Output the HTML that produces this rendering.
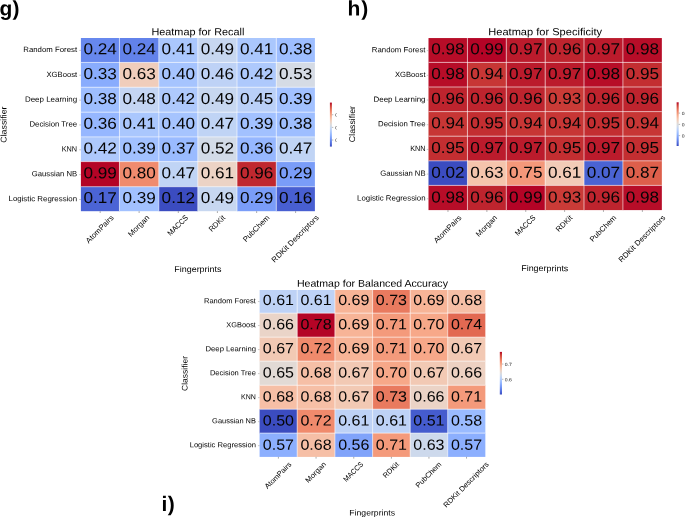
<!DOCTYPE html>
<html><head><meta charset="utf-8"><title>Heatmaps</title>
<style>
html,body{margin:0;padding:0;background:#fff;overflow:hidden}
svg{display:block;will-change:transform;font-family:"Liberation Sans",sans-serif}
</style></head>
<body>
<svg width="685" height="517" viewBox="0 0 685 517">
<rect x="0" y="0" width="685" height="517" fill="#fff"/>
<rect x="80.90" y="38.00" width="38.85" height="24.75" fill="#6788ee"/>
<rect x="119.45" y="38.00" width="39.65" height="24.75" fill="#6282ea"/>
<rect x="158.80" y="38.00" width="39.30" height="24.75" fill="#aac7fd"/>
<rect x="197.80" y="38.00" width="39.50" height="24.75" fill="#c7d7f0"/>
<rect x="237.00" y="38.00" width="39.60" height="24.75" fill="#aac7fd"/>
<rect x="276.30" y="38.00" width="38.60" height="24.75" fill="#9ebeff"/>
<rect x="80.90" y="62.45" width="38.85" height="25.10" fill="#89acfd"/>
<rect x="119.45" y="62.45" width="39.65" height="25.10" fill="#f0cdbb"/>
<rect x="158.80" y="62.45" width="39.30" height="25.10" fill="#a6c4fe"/>
<rect x="197.80" y="62.45" width="39.50" height="25.10" fill="#bed2f6"/>
<rect x="237.00" y="62.45" width="39.60" height="25.10" fill="#aec9fc"/>
<rect x="276.30" y="62.45" width="38.60" height="25.10" fill="#d5dbe5"/>
<rect x="80.90" y="87.25" width="38.85" height="25.25" fill="#9ebeff"/>
<rect x="119.45" y="87.25" width="39.65" height="25.25" fill="#c4d5f3"/>
<rect x="158.80" y="87.25" width="39.30" height="25.25" fill="#aec9fc"/>
<rect x="197.80" y="87.25" width="39.50" height="25.25" fill="#c7d7f0"/>
<rect x="237.00" y="87.25" width="39.60" height="25.25" fill="#bad0f8"/>
<rect x="276.30" y="87.25" width="38.60" height="25.25" fill="#a2c1ff"/>
<rect x="80.90" y="112.20" width="38.85" height="25.00" fill="#96b7ff"/>
<rect x="119.45" y="112.20" width="39.65" height="25.00" fill="#aac7fd"/>
<rect x="158.80" y="112.20" width="39.30" height="25.00" fill="#a6c4fe"/>
<rect x="197.80" y="112.20" width="39.50" height="25.00" fill="#c0d4f5"/>
<rect x="237.00" y="112.20" width="39.60" height="25.00" fill="#a2c1ff"/>
<rect x="276.30" y="112.20" width="38.60" height="25.00" fill="#9ebeff"/>
<rect x="80.90" y="136.90" width="38.85" height="25.00" fill="#aec9fc"/>
<rect x="119.45" y="136.90" width="39.65" height="25.00" fill="#a2c1ff"/>
<rect x="158.80" y="136.90" width="39.30" height="25.00" fill="#9abbff"/>
<rect x="197.80" y="136.90" width="39.50" height="25.00" fill="#d2dbe8"/>
<rect x="237.00" y="136.90" width="39.60" height="25.00" fill="#96b7ff"/>
<rect x="276.30" y="136.90" width="38.60" height="25.00" fill="#c0d4f5"/>
<rect x="80.90" y="161.60" width="38.85" height="25.40" fill="#b40426"/>
<rect x="119.45" y="161.60" width="39.65" height="25.40" fill="#f08b6e"/>
<rect x="158.80" y="161.60" width="39.30" height="25.40" fill="#c0d4f5"/>
<rect x="197.80" y="161.60" width="39.50" height="25.40" fill="#ecd3c5"/>
<rect x="237.00" y="161.60" width="39.60" height="25.40" fill="#c0282f"/>
<rect x="276.30" y="161.60" width="38.60" height="25.40" fill="#7a9df8"/>
<rect x="80.90" y="186.70" width="38.85" height="24.50" fill="#4b64d5"/>
<rect x="119.45" y="186.70" width="39.65" height="24.50" fill="#a2c1ff"/>
<rect x="158.80" y="186.70" width="39.30" height="24.50" fill="#3b4cc0"/>
<rect x="197.80" y="186.70" width="39.50" height="24.50" fill="#c7d7f0"/>
<rect x="237.00" y="186.70" width="39.60" height="24.50" fill="#7a9df8"/>
<rect x="276.30" y="186.70" width="38.60" height="24.50" fill="#485fd1"/>
<line x1="119.45" y1="38.00" x2="119.45" y2="211.20" stroke="#fff" stroke-opacity="0.75" stroke-width="0.8"/>
<line x1="158.80" y1="38.00" x2="158.80" y2="211.20" stroke="#fff" stroke-opacity="0.75" stroke-width="0.8"/>
<line x1="197.80" y1="38.00" x2="197.80" y2="211.20" stroke="#fff" stroke-opacity="0.75" stroke-width="0.8"/>
<line x1="237.00" y1="38.00" x2="237.00" y2="211.20" stroke="#fff" stroke-opacity="0.75" stroke-width="0.8"/>
<line x1="276.30" y1="38.00" x2="276.30" y2="211.20" stroke="#fff" stroke-opacity="0.75" stroke-width="0.8"/>
<line x1="80.90" y1="62.45" x2="314.90" y2="62.45" stroke="#fff" stroke-opacity="0.75" stroke-width="0.8"/>
<line x1="80.90" y1="87.25" x2="314.90" y2="87.25" stroke="#fff" stroke-opacity="0.75" stroke-width="0.8"/>
<line x1="80.90" y1="112.20" x2="314.90" y2="112.20" stroke="#fff" stroke-opacity="0.75" stroke-width="0.8"/>
<line x1="80.90" y1="136.90" x2="314.90" y2="136.90" stroke="#fff" stroke-opacity="0.75" stroke-width="0.8"/>
<line x1="80.90" y1="161.60" x2="314.90" y2="161.60" stroke="#fff" stroke-opacity="0.75" stroke-width="0.8"/>
<line x1="80.90" y1="186.70" x2="314.90" y2="186.70" stroke="#fff" stroke-opacity="0.75" stroke-width="0.8"/>
<text x="100.18" y="54.33" font-size="15.90" text-anchor="middle" fill="#050505" textLength="33.40" lengthAdjust="spacingAndGlyphs" transform="rotate(0.03 100.18 54.33)">0.24</text>
<text x="139.12" y="54.33" font-size="15.90" text-anchor="middle" fill="#050505" textLength="33.40" lengthAdjust="spacingAndGlyphs" transform="rotate(0.03 139.12 54.33)">0.24</text>
<text x="178.30" y="54.33" font-size="15.90" text-anchor="middle" fill="#050505" textLength="33.40" lengthAdjust="spacingAndGlyphs" transform="rotate(0.03 178.30 54.33)">0.41</text>
<text x="217.40" y="54.33" font-size="15.90" text-anchor="middle" fill="#050505" textLength="33.40" lengthAdjust="spacingAndGlyphs" transform="rotate(0.03 217.40 54.33)">0.49</text>
<text x="256.65" y="54.33" font-size="15.90" text-anchor="middle" fill="#050505" textLength="33.40" lengthAdjust="spacingAndGlyphs" transform="rotate(0.03 256.65 54.33)">0.41</text>
<text x="295.60" y="54.33" font-size="15.90" text-anchor="middle" fill="#050505" textLength="33.40" lengthAdjust="spacingAndGlyphs" transform="rotate(0.03 295.60 54.33)">0.38</text>
<text x="100.18" y="79.13" font-size="15.90" text-anchor="middle" fill="#050505" textLength="33.40" lengthAdjust="spacingAndGlyphs" transform="rotate(0.03 100.18 79.13)">0.33</text>
<text x="139.12" y="79.13" font-size="15.90" text-anchor="middle" fill="#050505" textLength="33.40" lengthAdjust="spacingAndGlyphs" transform="rotate(0.03 139.12 79.13)">0.63</text>
<text x="178.30" y="79.13" font-size="15.90" text-anchor="middle" fill="#050505" textLength="33.40" lengthAdjust="spacingAndGlyphs" transform="rotate(0.03 178.30 79.13)">0.40</text>
<text x="217.40" y="79.13" font-size="15.90" text-anchor="middle" fill="#050505" textLength="33.40" lengthAdjust="spacingAndGlyphs" transform="rotate(0.03 217.40 79.13)">0.46</text>
<text x="256.65" y="79.13" font-size="15.90" text-anchor="middle" fill="#050505" textLength="33.40" lengthAdjust="spacingAndGlyphs" transform="rotate(0.03 256.65 79.13)">0.42</text>
<text x="295.60" y="79.13" font-size="15.90" text-anchor="middle" fill="#050505" textLength="33.40" lengthAdjust="spacingAndGlyphs" transform="rotate(0.03 295.60 79.13)">0.53</text>
<text x="100.18" y="103.93" font-size="15.90" text-anchor="middle" fill="#050505" textLength="33.40" lengthAdjust="spacingAndGlyphs" transform="rotate(0.03 100.18 103.93)">0.38</text>
<text x="139.12" y="103.93" font-size="15.90" text-anchor="middle" fill="#050505" textLength="33.40" lengthAdjust="spacingAndGlyphs" transform="rotate(0.03 139.12 103.93)">0.48</text>
<text x="178.30" y="103.93" font-size="15.90" text-anchor="middle" fill="#050505" textLength="33.40" lengthAdjust="spacingAndGlyphs" transform="rotate(0.03 178.30 103.93)">0.42</text>
<text x="217.40" y="103.93" font-size="15.90" text-anchor="middle" fill="#050505" textLength="33.40" lengthAdjust="spacingAndGlyphs" transform="rotate(0.03 217.40 103.93)">0.49</text>
<text x="256.65" y="103.93" font-size="15.90" text-anchor="middle" fill="#050505" textLength="33.40" lengthAdjust="spacingAndGlyphs" transform="rotate(0.03 256.65 103.93)">0.45</text>
<text x="295.60" y="103.93" font-size="15.90" text-anchor="middle" fill="#050505" textLength="33.40" lengthAdjust="spacingAndGlyphs" transform="rotate(0.03 295.60 103.93)">0.39</text>
<text x="100.18" y="128.73" font-size="15.90" text-anchor="middle" fill="#050505" textLength="33.40" lengthAdjust="spacingAndGlyphs" transform="rotate(0.03 100.18 128.73)">0.36</text>
<text x="139.12" y="128.73" font-size="15.90" text-anchor="middle" fill="#050505" textLength="33.40" lengthAdjust="spacingAndGlyphs" transform="rotate(0.03 139.12 128.73)">0.41</text>
<text x="178.30" y="128.73" font-size="15.90" text-anchor="middle" fill="#050505" textLength="33.40" lengthAdjust="spacingAndGlyphs" transform="rotate(0.03 178.30 128.73)">0.40</text>
<text x="217.40" y="128.73" font-size="15.90" text-anchor="middle" fill="#050505" textLength="33.40" lengthAdjust="spacingAndGlyphs" transform="rotate(0.03 217.40 128.73)">0.47</text>
<text x="256.65" y="128.73" font-size="15.90" text-anchor="middle" fill="#050505" textLength="33.40" lengthAdjust="spacingAndGlyphs" transform="rotate(0.03 256.65 128.73)">0.39</text>
<text x="295.60" y="128.73" font-size="15.90" text-anchor="middle" fill="#050505" textLength="33.40" lengthAdjust="spacingAndGlyphs" transform="rotate(0.03 295.60 128.73)">0.38</text>
<text x="100.18" y="153.53" font-size="15.90" text-anchor="middle" fill="#050505" textLength="33.40" lengthAdjust="spacingAndGlyphs" transform="rotate(0.03 100.18 153.53)">0.42</text>
<text x="139.12" y="153.53" font-size="15.90" text-anchor="middle" fill="#050505" textLength="33.40" lengthAdjust="spacingAndGlyphs" transform="rotate(0.03 139.12 153.53)">0.39</text>
<text x="178.30" y="153.53" font-size="15.90" text-anchor="middle" fill="#050505" textLength="33.40" lengthAdjust="spacingAndGlyphs" transform="rotate(0.03 178.30 153.53)">0.37</text>
<text x="217.40" y="153.53" font-size="15.90" text-anchor="middle" fill="#050505" textLength="33.40" lengthAdjust="spacingAndGlyphs" transform="rotate(0.03 217.40 153.53)">0.52</text>
<text x="256.65" y="153.53" font-size="15.90" text-anchor="middle" fill="#050505" textLength="33.40" lengthAdjust="spacingAndGlyphs" transform="rotate(0.03 256.65 153.53)">0.36</text>
<text x="295.60" y="153.53" font-size="15.90" text-anchor="middle" fill="#050505" textLength="33.40" lengthAdjust="spacingAndGlyphs" transform="rotate(0.03 295.60 153.53)">0.47</text>
<text x="100.18" y="178.33" font-size="15.90" text-anchor="middle" fill="#050505" textLength="33.40" lengthAdjust="spacingAndGlyphs" transform="rotate(0.03 100.18 178.33)">0.99</text>
<text x="139.12" y="178.33" font-size="15.90" text-anchor="middle" fill="#050505" textLength="33.40" lengthAdjust="spacingAndGlyphs" transform="rotate(0.03 139.12 178.33)">0.80</text>
<text x="178.30" y="178.33" font-size="15.90" text-anchor="middle" fill="#050505" textLength="33.40" lengthAdjust="spacingAndGlyphs" transform="rotate(0.03 178.30 178.33)">0.47</text>
<text x="217.40" y="178.33" font-size="15.90" text-anchor="middle" fill="#050505" textLength="33.40" lengthAdjust="spacingAndGlyphs" transform="rotate(0.03 217.40 178.33)">0.61</text>
<text x="256.65" y="178.33" font-size="15.90" text-anchor="middle" fill="#050505" textLength="33.40" lengthAdjust="spacingAndGlyphs" transform="rotate(0.03 256.65 178.33)">0.96</text>
<text x="295.60" y="178.33" font-size="15.90" text-anchor="middle" fill="#050505" textLength="33.40" lengthAdjust="spacingAndGlyphs" transform="rotate(0.03 295.60 178.33)">0.29</text>
<text x="100.18" y="203.13" font-size="15.90" text-anchor="middle" fill="#050505" textLength="33.40" lengthAdjust="spacingAndGlyphs" transform="rotate(0.03 100.18 203.13)">0.17</text>
<text x="139.12" y="203.13" font-size="15.90" text-anchor="middle" fill="#050505" textLength="33.40" lengthAdjust="spacingAndGlyphs" transform="rotate(0.03 139.12 203.13)">0.39</text>
<text x="178.30" y="203.13" font-size="15.90" text-anchor="middle" fill="#050505" textLength="33.40" lengthAdjust="spacingAndGlyphs" transform="rotate(0.03 178.30 203.13)">0.12</text>
<text x="217.40" y="203.13" font-size="15.90" text-anchor="middle" fill="#050505" textLength="33.40" lengthAdjust="spacingAndGlyphs" transform="rotate(0.03 217.40 203.13)">0.49</text>
<text x="256.65" y="203.13" font-size="15.90" text-anchor="middle" fill="#050505" textLength="33.40" lengthAdjust="spacingAndGlyphs" transform="rotate(0.03 256.65 203.13)">0.29</text>
<text x="295.60" y="203.13" font-size="15.90" text-anchor="middle" fill="#050505" textLength="33.40" lengthAdjust="spacingAndGlyphs" transform="rotate(0.03 295.60 203.13)">0.16</text>
<line x1="79.20" y1="50.40" x2="80.90" y2="50.40" stroke="#888" stroke-width="0.45"/>
<text x="77.10" y="52.07" font-size="7.58" text-anchor="end" fill="#000" textLength="53.80" lengthAdjust="spacingAndGlyphs" transform="rotate(0.03 77.10 52.07)">Random Forest</text>
<line x1="79.20" y1="75.25" x2="80.90" y2="75.25" stroke="#888" stroke-width="0.45"/>
<text x="77.10" y="76.92" font-size="7.58" text-anchor="end" fill="#000" textLength="30.62" lengthAdjust="spacingAndGlyphs" transform="rotate(0.03 77.10 76.92)">XGBoost</text>
<line x1="79.20" y1="100.10" x2="80.90" y2="100.10" stroke="#888" stroke-width="0.45"/>
<text x="77.10" y="101.77" font-size="7.58" text-anchor="end" fill="#000" textLength="52.16" lengthAdjust="spacingAndGlyphs" transform="rotate(0.03 77.10 101.77)">Deep Learning</text>
<line x1="79.20" y1="124.95" x2="80.90" y2="124.95" stroke="#888" stroke-width="0.45"/>
<text x="77.10" y="126.62" font-size="7.58" text-anchor="end" fill="#000" textLength="47.60" lengthAdjust="spacingAndGlyphs" transform="rotate(0.03 77.10 126.62)">Decision Tree</text>
<line x1="79.20" y1="149.80" x2="80.90" y2="149.80" stroke="#888" stroke-width="0.45"/>
<text x="77.10" y="151.47" font-size="7.58" text-anchor="end" fill="#000" textLength="15.39" lengthAdjust="spacingAndGlyphs" transform="rotate(0.03 77.10 151.47)">KNN</text>
<line x1="79.20" y1="174.65" x2="80.90" y2="174.65" stroke="#888" stroke-width="0.45"/>
<text x="77.10" y="176.32" font-size="7.58" text-anchor="end" fill="#000" textLength="45.33" lengthAdjust="spacingAndGlyphs" transform="rotate(0.03 77.10 176.32)">Gaussian NB</text>
<line x1="79.20" y1="199.50" x2="80.90" y2="199.50" stroke="#888" stroke-width="0.45"/>
<text x="77.10" y="201.17" font-size="7.58" text-anchor="end" fill="#000" textLength="68.58" lengthAdjust="spacingAndGlyphs" transform="rotate(0.03 77.10 201.17)">Logistic Regression</text>
<line x1="100.18" y1="211.20" x2="100.18" y2="213.00" stroke="#555" stroke-width="0.5"/>
<text x="100.18" y="231.51" font-size="7.58" text-anchor="middle" fill="#000" textLength="35.93" lengthAdjust="spacingAndGlyphs" transform="rotate(-45.03 100.18 229.64)">AtomPairs</text>
<line x1="139.12" y1="211.20" x2="139.12" y2="213.00" stroke="#555" stroke-width="0.5"/>
<text x="139.12" y="228.28" font-size="7.58" text-anchor="middle" fill="#000" textLength="26.81" lengthAdjust="spacingAndGlyphs" transform="rotate(-45.03 139.12 226.41)">Morgan</text>
<line x1="178.30" y1="211.20" x2="178.30" y2="213.00" stroke="#555" stroke-width="0.5"/>
<text x="178.30" y="227.81" font-size="7.58" text-anchor="middle" fill="#000" textLength="25.46" lengthAdjust="spacingAndGlyphs" transform="rotate(-45.03 178.30 225.93)">MACCS</text>
<line x1="217.40" y1="211.20" x2="217.40" y2="213.00" stroke="#555" stroke-width="0.5"/>
<text x="217.40" y="225.86" font-size="7.58" text-anchor="middle" fill="#000" textLength="19.95" lengthAdjust="spacingAndGlyphs" transform="rotate(-45.03 217.40 223.99)">RDKit</text>
<line x1="256.65" y1="211.20" x2="256.65" y2="213.00" stroke="#555" stroke-width="0.5"/>
<text x="256.65" y="230.88" font-size="7.58" text-anchor="middle" fill="#000" textLength="34.14" lengthAdjust="spacingAndGlyphs" transform="rotate(-45.03 256.65 229.00)">PubChem</text>
<line x1="295.60" y1="211.20" x2="295.60" y2="213.00" stroke="#555" stroke-width="0.5"/>
<text x="295.60" y="241.11" font-size="7.58" text-anchor="middle" fill="#000" textLength="63.09" lengthAdjust="spacingAndGlyphs" transform="rotate(-45.03 295.60 239.24)">RDKit Descriptors</text>
<text x="197.90" y="35.30" font-size="10.28" text-anchor="middle" fill="#000" textLength="93.00" lengthAdjust="spacingAndGlyphs" transform="rotate(0.03 197.90 35.30)">Heatmap for Recall</text>
<text x="197.90" y="271.98" font-size="8.43" text-anchor="middle" fill="#000" textLength="47.27" lengthAdjust="spacingAndGlyphs" transform="rotate(0.03 197.90 271.98)">Fingerprints</text>
<text x="6.40" y="124.60" font-size="8.43" text-anchor="middle" fill="#000" textLength="36.29" lengthAdjust="spacingAndGlyphs" transform="rotate(-90.03 6.40 124.60)">Classifier</text>
<defs><linearGradient id="g80" x1="0" y1="0" x2="0" y2="1"><stop offset="0.0000" stop-color="#b40426"/><stop offset="0.0625" stop-color="#ca3b37"/><stop offset="0.1250" stop-color="#dd5f4b"/><stop offset="0.1875" stop-color="#eb7d62"/><stop offset="0.2500" stop-color="#f4987a"/><stop offset="0.3125" stop-color="#f7b093"/><stop offset="0.3750" stop-color="#f5c4ac"/><stop offset="0.4375" stop-color="#ecd3c5"/><stop offset="0.5000" stop-color="#dddcdc"/><stop offset="0.5625" stop-color="#ccd9ed"/><stop offset="0.6250" stop-color="#b9d0f9"/><stop offset="0.6875" stop-color="#a3c2fe"/><stop offset="0.7500" stop-color="#8db0fe"/><stop offset="0.8125" stop-color="#779af7"/><stop offset="0.8750" stop-color="#6282ea"/><stop offset="0.9375" stop-color="#4e68d8"/><stop offset="1.0000" stop-color="#3b4cc0"/></linearGradient></defs>
<rect x="329.90" y="102.60" width="2.00" height="44.00" fill="url(#g80)"/>
<line x1="331.90" y1="140.03" x2="333.30" y2="140.03" stroke="#555" stroke-width="0.4"/>
<text x="335.20" y="141.87" font-size="4.66" text-anchor="start" fill="#1a1a1a" textLength="9.80" lengthAdjust="spacingAndGlyphs" transform="rotate(0.03 335.20 141.87)">0.25</text>
<line x1="331.90" y1="127.38" x2="333.30" y2="127.38" stroke="#555" stroke-width="0.4"/>
<text x="335.20" y="129.23" font-size="4.66" text-anchor="start" fill="#1a1a1a" textLength="9.80" lengthAdjust="spacingAndGlyphs" transform="rotate(0.03 335.20 129.23)">0.50</text>
<line x1="331.90" y1="114.74" x2="333.30" y2="114.74" stroke="#555" stroke-width="0.4"/>
<text x="335.20" y="116.59" font-size="4.66" text-anchor="start" fill="#1a1a1a" textLength="9.80" lengthAdjust="spacingAndGlyphs" transform="rotate(0.03 335.20 116.59)">0.75</text>
<rect x="336.9" y="100" width="9.4" height="50" fill="#fff"/>
<rect x="428.50" y="38.06" width="39.25" height="24.64" fill="#b70d28"/>
<rect x="467.45" y="38.06" width="39.15" height="24.64" fill="#b40426"/>
<rect x="506.30" y="38.06" width="39.20" height="24.64" fill="#bb1b2c"/>
<rect x="545.20" y="38.06" width="39.10" height="24.64" fill="#be242e"/>
<rect x="584.00" y="38.06" width="39.20" height="24.64" fill="#bb1b2c"/>
<rect x="622.90" y="38.06" width="38.95" height="24.64" fill="#b70d28"/>
<rect x="428.50" y="62.40" width="39.25" height="24.90" fill="#b70d28"/>
<rect x="467.45" y="62.40" width="39.15" height="24.90" fill="#c73635"/>
<rect x="506.30" y="62.40" width="39.20" height="24.90" fill="#bb1b2c"/>
<rect x="545.20" y="62.40" width="39.10" height="24.90" fill="#bb1b2c"/>
<rect x="584.00" y="62.40" width="39.20" height="24.90" fill="#b70d28"/>
<rect x="622.90" y="62.40" width="38.95" height="24.90" fill="#c32e31"/>
<rect x="428.50" y="87.00" width="39.25" height="24.90" fill="#be242e"/>
<rect x="467.45" y="87.00" width="39.15" height="24.90" fill="#be242e"/>
<rect x="506.30" y="87.00" width="39.20" height="24.90" fill="#be242e"/>
<rect x="545.20" y="87.00" width="39.10" height="24.90" fill="#ca3b37"/>
<rect x="584.00" y="87.00" width="39.20" height="24.90" fill="#be242e"/>
<rect x="622.90" y="87.00" width="38.95" height="24.90" fill="#be242e"/>
<rect x="428.50" y="111.60" width="39.25" height="24.90" fill="#c73635"/>
<rect x="467.45" y="111.60" width="39.15" height="24.90" fill="#c32e31"/>
<rect x="506.30" y="111.60" width="39.20" height="24.90" fill="#c73635"/>
<rect x="545.20" y="111.60" width="39.10" height="24.90" fill="#c73635"/>
<rect x="584.00" y="111.60" width="39.20" height="24.90" fill="#c32e31"/>
<rect x="622.90" y="111.60" width="38.95" height="24.90" fill="#c73635"/>
<rect x="428.50" y="136.20" width="39.25" height="24.90" fill="#c32e31"/>
<rect x="467.45" y="136.20" width="39.15" height="24.90" fill="#bb1b2c"/>
<rect x="506.30" y="136.20" width="39.20" height="24.90" fill="#bb1b2c"/>
<rect x="545.20" y="136.20" width="39.10" height="24.90" fill="#c32e31"/>
<rect x="584.00" y="136.20" width="39.20" height="24.90" fill="#bb1b2c"/>
<rect x="622.90" y="136.20" width="38.95" height="24.90" fill="#c32e31"/>
<rect x="428.50" y="160.80" width="39.25" height="24.90" fill="#3b4cc0"/>
<rect x="467.45" y="160.80" width="39.15" height="24.90" fill="#f5c4ac"/>
<rect x="506.30" y="160.80" width="39.20" height="24.90" fill="#f4987a"/>
<rect x="545.20" y="160.80" width="39.10" height="24.90" fill="#f2cbb7"/>
<rect x="584.00" y="160.80" width="39.20" height="24.90" fill="#4a63d3"/>
<rect x="622.90" y="160.80" width="38.95" height="24.90" fill="#dd5f4b"/>
<rect x="428.50" y="185.40" width="39.25" height="24.70" fill="#b70d28"/>
<rect x="467.45" y="185.40" width="39.15" height="24.70" fill="#be242e"/>
<rect x="506.30" y="185.40" width="39.20" height="24.70" fill="#b40426"/>
<rect x="545.20" y="185.40" width="39.10" height="24.70" fill="#ca3b37"/>
<rect x="584.00" y="185.40" width="39.20" height="24.70" fill="#be242e"/>
<rect x="622.90" y="185.40" width="38.95" height="24.70" fill="#b70d28"/>
<line x1="467.45" y1="38.06" x2="467.45" y2="210.10" stroke="#fff" stroke-opacity="0.75" stroke-width="0.8"/>
<line x1="506.30" y1="38.06" x2="506.30" y2="210.10" stroke="#fff" stroke-opacity="0.75" stroke-width="0.8"/>
<line x1="545.20" y1="38.06" x2="545.20" y2="210.10" stroke="#fff" stroke-opacity="0.75" stroke-width="0.8"/>
<line x1="584.00" y1="38.06" x2="584.00" y2="210.10" stroke="#fff" stroke-opacity="0.75" stroke-width="0.8"/>
<line x1="622.90" y1="38.06" x2="622.90" y2="210.10" stroke="#fff" stroke-opacity="0.75" stroke-width="0.8"/>
<line x1="428.50" y1="62.40" x2="661.85" y2="62.40" stroke="#fff" stroke-opacity="0.75" stroke-width="0.8"/>
<line x1="428.50" y1="87.00" x2="661.85" y2="87.00" stroke="#fff" stroke-opacity="0.75" stroke-width="0.8"/>
<line x1="428.50" y1="111.60" x2="661.85" y2="111.60" stroke="#fff" stroke-opacity="0.75" stroke-width="0.8"/>
<line x1="428.50" y1="136.20" x2="661.85" y2="136.20" stroke="#fff" stroke-opacity="0.75" stroke-width="0.8"/>
<line x1="428.50" y1="160.80" x2="661.85" y2="160.80" stroke="#fff" stroke-opacity="0.75" stroke-width="0.8"/>
<line x1="428.50" y1="185.40" x2="661.85" y2="185.40" stroke="#fff" stroke-opacity="0.75" stroke-width="0.8"/>
<text x="447.98" y="54.28" font-size="15.90" text-anchor="middle" fill="#050505" textLength="33.40" lengthAdjust="spacingAndGlyphs" transform="rotate(0.03 447.98 54.28)">0.98</text>
<text x="486.88" y="54.28" font-size="15.90" text-anchor="middle" fill="#050505" textLength="33.40" lengthAdjust="spacingAndGlyphs" transform="rotate(0.03 486.88 54.28)">0.99</text>
<text x="525.75" y="54.28" font-size="15.90" text-anchor="middle" fill="#050505" textLength="33.40" lengthAdjust="spacingAndGlyphs" transform="rotate(0.03 525.75 54.28)">0.97</text>
<text x="564.60" y="54.28" font-size="15.90" text-anchor="middle" fill="#050505" textLength="33.40" lengthAdjust="spacingAndGlyphs" transform="rotate(0.03 564.60 54.28)">0.96</text>
<text x="603.45" y="54.28" font-size="15.90" text-anchor="middle" fill="#050505" textLength="33.40" lengthAdjust="spacingAndGlyphs" transform="rotate(0.03 603.45 54.28)">0.97</text>
<text x="642.38" y="54.28" font-size="15.90" text-anchor="middle" fill="#050505" textLength="33.40" lengthAdjust="spacingAndGlyphs" transform="rotate(0.03 642.38 54.28)">0.98</text>
<text x="447.98" y="78.97" font-size="15.90" text-anchor="middle" fill="#050505" textLength="33.40" lengthAdjust="spacingAndGlyphs" transform="rotate(0.03 447.98 78.97)">0.98</text>
<text x="486.88" y="78.97" font-size="15.90" text-anchor="middle" fill="#050505" textLength="33.40" lengthAdjust="spacingAndGlyphs" transform="rotate(0.03 486.88 78.97)">0.94</text>
<text x="525.75" y="78.97" font-size="15.90" text-anchor="middle" fill="#050505" textLength="33.40" lengthAdjust="spacingAndGlyphs" transform="rotate(0.03 525.75 78.97)">0.97</text>
<text x="564.60" y="78.97" font-size="15.90" text-anchor="middle" fill="#050505" textLength="33.40" lengthAdjust="spacingAndGlyphs" transform="rotate(0.03 564.60 78.97)">0.97</text>
<text x="603.45" y="78.97" font-size="15.90" text-anchor="middle" fill="#050505" textLength="33.40" lengthAdjust="spacingAndGlyphs" transform="rotate(0.03 603.45 78.97)">0.98</text>
<text x="642.38" y="78.97" font-size="15.90" text-anchor="middle" fill="#050505" textLength="33.40" lengthAdjust="spacingAndGlyphs" transform="rotate(0.03 642.38 78.97)">0.95</text>
<text x="447.98" y="103.66" font-size="15.90" text-anchor="middle" fill="#050505" textLength="33.40" lengthAdjust="spacingAndGlyphs" transform="rotate(0.03 447.98 103.66)">0.96</text>
<text x="486.88" y="103.66" font-size="15.90" text-anchor="middle" fill="#050505" textLength="33.40" lengthAdjust="spacingAndGlyphs" transform="rotate(0.03 486.88 103.66)">0.96</text>
<text x="525.75" y="103.66" font-size="15.90" text-anchor="middle" fill="#050505" textLength="33.40" lengthAdjust="spacingAndGlyphs" transform="rotate(0.03 525.75 103.66)">0.96</text>
<text x="564.60" y="103.66" font-size="15.90" text-anchor="middle" fill="#050505" textLength="33.40" lengthAdjust="spacingAndGlyphs" transform="rotate(0.03 564.60 103.66)">0.93</text>
<text x="603.45" y="103.66" font-size="15.90" text-anchor="middle" fill="#050505" textLength="33.40" lengthAdjust="spacingAndGlyphs" transform="rotate(0.03 603.45 103.66)">0.96</text>
<text x="642.38" y="103.66" font-size="15.90" text-anchor="middle" fill="#050505" textLength="33.40" lengthAdjust="spacingAndGlyphs" transform="rotate(0.03 642.38 103.66)">0.96</text>
<text x="447.98" y="128.35" font-size="15.90" text-anchor="middle" fill="#050505" textLength="33.40" lengthAdjust="spacingAndGlyphs" transform="rotate(0.03 447.98 128.35)">0.94</text>
<text x="486.88" y="128.35" font-size="15.90" text-anchor="middle" fill="#050505" textLength="33.40" lengthAdjust="spacingAndGlyphs" transform="rotate(0.03 486.88 128.35)">0.95</text>
<text x="525.75" y="128.35" font-size="15.90" text-anchor="middle" fill="#050505" textLength="33.40" lengthAdjust="spacingAndGlyphs" transform="rotate(0.03 525.75 128.35)">0.94</text>
<text x="564.60" y="128.35" font-size="15.90" text-anchor="middle" fill="#050505" textLength="33.40" lengthAdjust="spacingAndGlyphs" transform="rotate(0.03 564.60 128.35)">0.94</text>
<text x="603.45" y="128.35" font-size="15.90" text-anchor="middle" fill="#050505" textLength="33.40" lengthAdjust="spacingAndGlyphs" transform="rotate(0.03 603.45 128.35)">0.95</text>
<text x="642.38" y="128.35" font-size="15.90" text-anchor="middle" fill="#050505" textLength="33.40" lengthAdjust="spacingAndGlyphs" transform="rotate(0.03 642.38 128.35)">0.94</text>
<text x="447.98" y="153.04" font-size="15.90" text-anchor="middle" fill="#050505" textLength="33.40" lengthAdjust="spacingAndGlyphs" transform="rotate(0.03 447.98 153.04)">0.95</text>
<text x="486.88" y="153.04" font-size="15.90" text-anchor="middle" fill="#050505" textLength="33.40" lengthAdjust="spacingAndGlyphs" transform="rotate(0.03 486.88 153.04)">0.97</text>
<text x="525.75" y="153.04" font-size="15.90" text-anchor="middle" fill="#050505" textLength="33.40" lengthAdjust="spacingAndGlyphs" transform="rotate(0.03 525.75 153.04)">0.97</text>
<text x="564.60" y="153.04" font-size="15.90" text-anchor="middle" fill="#050505" textLength="33.40" lengthAdjust="spacingAndGlyphs" transform="rotate(0.03 564.60 153.04)">0.95</text>
<text x="603.45" y="153.04" font-size="15.90" text-anchor="middle" fill="#050505" textLength="33.40" lengthAdjust="spacingAndGlyphs" transform="rotate(0.03 603.45 153.04)">0.97</text>
<text x="642.38" y="153.04" font-size="15.90" text-anchor="middle" fill="#050505" textLength="33.40" lengthAdjust="spacingAndGlyphs" transform="rotate(0.03 642.38 153.04)">0.95</text>
<text x="447.98" y="177.73" font-size="15.90" text-anchor="middle" fill="#050505" textLength="33.40" lengthAdjust="spacingAndGlyphs" transform="rotate(0.03 447.98 177.73)">0.02</text>
<text x="486.88" y="177.73" font-size="15.90" text-anchor="middle" fill="#050505" textLength="33.40" lengthAdjust="spacingAndGlyphs" transform="rotate(0.03 486.88 177.73)">0.63</text>
<text x="525.75" y="177.73" font-size="15.90" text-anchor="middle" fill="#050505" textLength="33.40" lengthAdjust="spacingAndGlyphs" transform="rotate(0.03 525.75 177.73)">0.75</text>
<text x="564.60" y="177.73" font-size="15.90" text-anchor="middle" fill="#050505" textLength="33.40" lengthAdjust="spacingAndGlyphs" transform="rotate(0.03 564.60 177.73)">0.61</text>
<text x="603.45" y="177.73" font-size="15.90" text-anchor="middle" fill="#050505" textLength="33.40" lengthAdjust="spacingAndGlyphs" transform="rotate(0.03 603.45 177.73)">0.07</text>
<text x="642.38" y="177.73" font-size="15.90" text-anchor="middle" fill="#050505" textLength="33.40" lengthAdjust="spacingAndGlyphs" transform="rotate(0.03 642.38 177.73)">0.87</text>
<text x="447.98" y="202.42" font-size="15.90" text-anchor="middle" fill="#050505" textLength="33.40" lengthAdjust="spacingAndGlyphs" transform="rotate(0.03 447.98 202.42)">0.98</text>
<text x="486.88" y="202.42" font-size="15.90" text-anchor="middle" fill="#050505" textLength="33.40" lengthAdjust="spacingAndGlyphs" transform="rotate(0.03 486.88 202.42)">0.96</text>
<text x="525.75" y="202.42" font-size="15.90" text-anchor="middle" fill="#050505" textLength="33.40" lengthAdjust="spacingAndGlyphs" transform="rotate(0.03 525.75 202.42)">0.99</text>
<text x="564.60" y="202.42" font-size="15.90" text-anchor="middle" fill="#050505" textLength="33.40" lengthAdjust="spacingAndGlyphs" transform="rotate(0.03 564.60 202.42)">0.93</text>
<text x="603.45" y="202.42" font-size="15.90" text-anchor="middle" fill="#050505" textLength="33.40" lengthAdjust="spacingAndGlyphs" transform="rotate(0.03 603.45 202.42)">0.96</text>
<text x="642.38" y="202.42" font-size="15.90" text-anchor="middle" fill="#050505" textLength="33.40" lengthAdjust="spacingAndGlyphs" transform="rotate(0.03 642.38 202.42)">0.98</text>
<line x1="426.81" y1="50.65" x2="428.50" y2="50.65" stroke="#888" stroke-width="0.45"/>
<text x="425.51" y="52.32" font-size="7.56" text-anchor="end" fill="#000" textLength="53.64" lengthAdjust="spacingAndGlyphs" transform="rotate(0.03 425.51 52.32)">Random Forest</text>
<line x1="426.81" y1="75.34" x2="428.50" y2="75.34" stroke="#888" stroke-width="0.45"/>
<text x="425.51" y="77.01" font-size="7.56" text-anchor="end" fill="#000" textLength="30.53" lengthAdjust="spacingAndGlyphs" transform="rotate(0.03 425.51 77.01)">XGBoost</text>
<line x1="426.81" y1="100.03" x2="428.50" y2="100.03" stroke="#888" stroke-width="0.45"/>
<text x="425.51" y="101.70" font-size="7.56" text-anchor="end" fill="#000" textLength="52.00" lengthAdjust="spacingAndGlyphs" transform="rotate(0.03 425.51 101.70)">Deep Learning</text>
<line x1="426.81" y1="124.72" x2="428.50" y2="124.72" stroke="#888" stroke-width="0.45"/>
<text x="425.51" y="126.39" font-size="7.56" text-anchor="end" fill="#000" textLength="47.46" lengthAdjust="spacingAndGlyphs" transform="rotate(0.03 425.51 126.39)">Decision Tree</text>
<line x1="426.81" y1="149.41" x2="428.50" y2="149.41" stroke="#888" stroke-width="0.45"/>
<text x="425.51" y="151.08" font-size="7.56" text-anchor="end" fill="#000" textLength="15.34" lengthAdjust="spacingAndGlyphs" transform="rotate(0.03 425.51 151.08)">KNN</text>
<line x1="426.81" y1="174.10" x2="428.50" y2="174.10" stroke="#888" stroke-width="0.45"/>
<text x="425.51" y="175.77" font-size="7.56" text-anchor="end" fill="#000" textLength="45.19" lengthAdjust="spacingAndGlyphs" transform="rotate(0.03 425.51 175.77)">Gaussian NB</text>
<line x1="426.81" y1="198.79" x2="428.50" y2="198.79" stroke="#888" stroke-width="0.45"/>
<text x="425.51" y="200.46" font-size="7.56" text-anchor="end" fill="#000" textLength="68.38" lengthAdjust="spacingAndGlyphs" transform="rotate(0.03 425.51 200.46)">Logistic Regression</text>
<line x1="447.98" y1="210.10" x2="447.98" y2="211.89" stroke="#555" stroke-width="0.5"/>
<text x="447.98" y="231.46" font-size="7.56" text-anchor="middle" fill="#000" textLength="35.82" lengthAdjust="spacingAndGlyphs" transform="rotate(-45.03 447.98 229.59)">AtomPairs</text>
<line x1="486.88" y1="210.10" x2="486.88" y2="211.89" stroke="#555" stroke-width="0.5"/>
<text x="486.88" y="228.24" font-size="7.56" text-anchor="middle" fill="#000" textLength="26.73" lengthAdjust="spacingAndGlyphs" transform="rotate(-45.03 486.88 226.37)">Morgan</text>
<line x1="525.75" y1="210.10" x2="525.75" y2="211.89" stroke="#555" stroke-width="0.5"/>
<text x="525.75" y="227.77" font-size="7.56" text-anchor="middle" fill="#000" textLength="25.38" lengthAdjust="spacingAndGlyphs" transform="rotate(-45.03 525.75 225.90)">MACCS</text>
<line x1="564.60" y1="210.10" x2="564.60" y2="211.89" stroke="#555" stroke-width="0.5"/>
<text x="564.60" y="225.82" font-size="7.56" text-anchor="middle" fill="#000" textLength="19.89" lengthAdjust="spacingAndGlyphs" transform="rotate(-45.03 564.60 223.96)">RDKit</text>
<line x1="603.45" y1="210.10" x2="603.45" y2="211.89" stroke="#555" stroke-width="0.5"/>
<text x="603.45" y="230.83" font-size="7.56" text-anchor="middle" fill="#000" textLength="34.04" lengthAdjust="spacingAndGlyphs" transform="rotate(-45.03 603.45 228.96)">PubChem</text>
<line x1="642.38" y1="210.10" x2="642.38" y2="211.89" stroke="#555" stroke-width="0.5"/>
<text x="642.38" y="241.03" font-size="7.56" text-anchor="middle" fill="#000" textLength="62.90" lengthAdjust="spacingAndGlyphs" transform="rotate(-45.03 642.38 239.16)">RDKit Descriptors</text>
<text x="545.17" y="35.30" font-size="10.25" text-anchor="middle" fill="#000" textLength="113.72" lengthAdjust="spacingAndGlyphs" transform="rotate(0.03 545.17 35.30)">Heatmap for Specificity</text>
<text x="544.77" y="271.13" font-size="8.40" text-anchor="middle" fill="#000" textLength="47.13" lengthAdjust="spacingAndGlyphs" transform="rotate(0.03 544.77 271.13)">Fingerprints</text>
<text x="355.00" y="124.08" font-size="8.40" text-anchor="middle" fill="#000" textLength="36.18" lengthAdjust="spacingAndGlyphs" transform="rotate(-90.03 355.00 124.08)">Classifier</text>
<defs><linearGradient id="g428" x1="0" y1="0" x2="0" y2="1"><stop offset="0.0000" stop-color="#b40426"/><stop offset="0.0625" stop-color="#ca3b37"/><stop offset="0.1250" stop-color="#dd5f4b"/><stop offset="0.1875" stop-color="#eb7d62"/><stop offset="0.2500" stop-color="#f4987a"/><stop offset="0.3125" stop-color="#f7b093"/><stop offset="0.3750" stop-color="#f5c4ac"/><stop offset="0.4375" stop-color="#ecd3c5"/><stop offset="0.5000" stop-color="#dddcdc"/><stop offset="0.5625" stop-color="#ccd9ed"/><stop offset="0.6250" stop-color="#b9d0f9"/><stop offset="0.6875" stop-color="#a3c2fe"/><stop offset="0.7500" stop-color="#8db0fe"/><stop offset="0.8125" stop-color="#779af7"/><stop offset="0.8750" stop-color="#6282ea"/><stop offset="0.9375" stop-color="#4e68d8"/><stop offset="1.0000" stop-color="#3b4cc0"/></linearGradient></defs>
<rect x="676.60" y="102.30" width="2.10" height="43.70" fill="url(#g428)"/>
<line x1="678.70" y1="135.64" x2="680.10" y2="135.64" stroke="#555" stroke-width="0.4"/>
<text x="681.80" y="137.49" font-size="4.66" text-anchor="start" fill="#1a1a1a" textLength="9.80" lengthAdjust="spacingAndGlyphs" transform="rotate(0.03 681.80 137.49)">0.25</text>
<line x1="678.70" y1="124.38" x2="680.10" y2="124.38" stroke="#555" stroke-width="0.4"/>
<text x="681.80" y="126.22" font-size="4.66" text-anchor="start" fill="#1a1a1a" textLength="9.80" lengthAdjust="spacingAndGlyphs" transform="rotate(0.03 681.80 126.22)">0.50</text>
<line x1="678.70" y1="113.11" x2="680.10" y2="113.11" stroke="#555" stroke-width="0.4"/>
<text x="681.80" y="114.96" font-size="4.66" text-anchor="start" fill="#1a1a1a" textLength="9.80" lengthAdjust="spacingAndGlyphs" transform="rotate(0.03 681.80 114.96)">0.75</text>
<rect x="259.60" y="290.00" width="37.90" height="23.45" fill="#bed2f6"/>
<rect x="297.20" y="290.00" width="38.00" height="23.45" fill="#bed2f6"/>
<rect x="334.90" y="290.00" width="38.00" height="23.45" fill="#f7b497"/>
<rect x="372.60" y="290.00" width="37.90" height="23.45" fill="#e97a5f"/>
<rect x="410.20" y="290.00" width="37.80" height="23.45" fill="#f7b497"/>
<rect x="447.70" y="290.00" width="37.65" height="23.45" fill="#f6bfa6"/>
<rect x="259.60" y="313.15" width="37.90" height="24.30" fill="#ead4c8"/>
<rect x="297.20" y="313.15" width="38.00" height="24.30" fill="#b40426"/>
<rect x="334.90" y="313.15" width="38.00" height="24.30" fill="#f7b497"/>
<rect x="372.60" y="313.15" width="37.90" height="24.30" fill="#f49a7b"/>
<rect x="410.20" y="313.15" width="37.80" height="24.30" fill="#f7a889"/>
<rect x="447.70" y="313.15" width="37.65" height="24.30" fill="#e26952"/>
<rect x="259.60" y="337.15" width="37.90" height="24.30" fill="#f2c9b4"/>
<rect x="297.20" y="337.15" width="38.00" height="24.30" fill="#f08a6c"/>
<rect x="334.90" y="337.15" width="38.00" height="24.30" fill="#f7b497"/>
<rect x="372.60" y="337.15" width="37.90" height="24.30" fill="#f49a7b"/>
<rect x="410.20" y="337.15" width="37.80" height="24.30" fill="#f7a889"/>
<rect x="447.70" y="337.15" width="37.65" height="24.30" fill="#f2c9b4"/>
<rect x="259.60" y="361.15" width="37.90" height="24.40" fill="#e2dad5"/>
<rect x="297.20" y="361.15" width="38.00" height="24.40" fill="#f6bfa6"/>
<rect x="334.90" y="361.15" width="38.00" height="24.40" fill="#f2c9b4"/>
<rect x="372.60" y="361.15" width="37.90" height="24.40" fill="#f7a889"/>
<rect x="410.20" y="361.15" width="37.80" height="24.40" fill="#f2c9b4"/>
<rect x="447.70" y="361.15" width="37.65" height="24.40" fill="#edd1c2"/>
<rect x="259.60" y="385.25" width="37.90" height="24.25" fill="#f6bfa6"/>
<rect x="297.20" y="385.25" width="38.00" height="24.25" fill="#f6bfa6"/>
<rect x="334.90" y="385.25" width="38.00" height="24.25" fill="#f2c9b4"/>
<rect x="372.60" y="385.25" width="37.90" height="24.25" fill="#e97a5f"/>
<rect x="410.20" y="385.25" width="37.80" height="24.25" fill="#ebd3c6"/>
<rect x="447.70" y="385.25" width="37.65" height="24.25" fill="#f49a7b"/>
<rect x="259.60" y="409.20" width="37.90" height="24.20" fill="#3b4cc0"/>
<rect x="297.20" y="409.20" width="38.00" height="24.20" fill="#f08a6c"/>
<rect x="334.90" y="409.20" width="38.00" height="24.20" fill="#bed2f6"/>
<rect x="372.60" y="409.20" width="37.90" height="24.20" fill="#bed2f6"/>
<rect x="410.20" y="409.20" width="37.80" height="24.20" fill="#455cce"/>
<rect x="447.70" y="409.20" width="37.65" height="24.20" fill="#9abbff"/>
<rect x="259.60" y="433.10" width="37.90" height="23.80" fill="#8caffe"/>
<rect x="297.20" y="433.10" width="38.00" height="23.80" fill="#f6bfa6"/>
<rect x="334.90" y="433.10" width="38.00" height="23.80" fill="#80a3fa"/>
<rect x="372.60" y="433.10" width="37.90" height="23.80" fill="#f49a7b"/>
<rect x="410.20" y="433.10" width="37.80" height="23.80" fill="#cdd9ec"/>
<rect x="447.70" y="433.10" width="37.65" height="23.80" fill="#8caffe"/>
<line x1="297.20" y1="290.00" x2="297.20" y2="456.90" stroke="#fff" stroke-opacity="0.75" stroke-width="0.8"/>
<line x1="334.90" y1="290.00" x2="334.90" y2="456.90" stroke="#fff" stroke-opacity="0.75" stroke-width="0.8"/>
<line x1="372.60" y1="290.00" x2="372.60" y2="456.90" stroke="#fff" stroke-opacity="0.75" stroke-width="0.8"/>
<line x1="410.20" y1="290.00" x2="410.20" y2="456.90" stroke="#fff" stroke-opacity="0.75" stroke-width="0.8"/>
<line x1="447.70" y1="290.00" x2="447.70" y2="456.90" stroke="#fff" stroke-opacity="0.75" stroke-width="0.8"/>
<line x1="259.60" y1="313.15" x2="485.35" y2="313.15" stroke="#fff" stroke-opacity="0.75" stroke-width="0.8"/>
<line x1="259.60" y1="337.15" x2="485.35" y2="337.15" stroke="#fff" stroke-opacity="0.75" stroke-width="0.8"/>
<line x1="259.60" y1="361.15" x2="485.35" y2="361.15" stroke="#fff" stroke-opacity="0.75" stroke-width="0.8"/>
<line x1="259.60" y1="385.25" x2="485.35" y2="385.25" stroke="#fff" stroke-opacity="0.75" stroke-width="0.8"/>
<line x1="259.60" y1="409.20" x2="485.35" y2="409.20" stroke="#fff" stroke-opacity="0.75" stroke-width="0.8"/>
<line x1="259.60" y1="433.10" x2="485.35" y2="433.10" stroke="#fff" stroke-opacity="0.75" stroke-width="0.8"/>
<text x="278.40" y="305.12" font-size="14.84" text-anchor="middle" fill="#050505" textLength="31.17" lengthAdjust="spacingAndGlyphs" transform="rotate(0.03 278.40 305.12)">0.61</text>
<text x="316.05" y="305.12" font-size="14.84" text-anchor="middle" fill="#050505" textLength="31.17" lengthAdjust="spacingAndGlyphs" transform="rotate(0.03 316.05 305.12)">0.61</text>
<text x="353.75" y="305.12" font-size="14.84" text-anchor="middle" fill="#050505" textLength="31.17" lengthAdjust="spacingAndGlyphs" transform="rotate(0.03 353.75 305.12)">0.69</text>
<text x="391.40" y="305.12" font-size="14.84" text-anchor="middle" fill="#050505" textLength="31.17" lengthAdjust="spacingAndGlyphs" transform="rotate(0.03 391.40 305.12)">0.73</text>
<text x="428.95" y="305.12" font-size="14.84" text-anchor="middle" fill="#050505" textLength="31.17" lengthAdjust="spacingAndGlyphs" transform="rotate(0.03 428.95 305.12)">0.69</text>
<text x="466.52" y="305.12" font-size="14.84" text-anchor="middle" fill="#050505" textLength="31.17" lengthAdjust="spacingAndGlyphs" transform="rotate(0.03 466.52 305.12)">0.68</text>
<text x="278.40" y="329.22" font-size="14.84" text-anchor="middle" fill="#050505" textLength="31.17" lengthAdjust="spacingAndGlyphs" transform="rotate(0.03 278.40 329.22)">0.66</text>
<text x="316.05" y="329.22" font-size="14.84" text-anchor="middle" fill="#050505" textLength="31.17" lengthAdjust="spacingAndGlyphs" transform="rotate(0.03 316.05 329.22)">0.78</text>
<text x="353.75" y="329.22" font-size="14.84" text-anchor="middle" fill="#050505" textLength="31.17" lengthAdjust="spacingAndGlyphs" transform="rotate(0.03 353.75 329.22)">0.69</text>
<text x="391.40" y="329.22" font-size="14.84" text-anchor="middle" fill="#050505" textLength="31.17" lengthAdjust="spacingAndGlyphs" transform="rotate(0.03 391.40 329.22)">0.71</text>
<text x="428.95" y="329.22" font-size="14.84" text-anchor="middle" fill="#050505" textLength="31.17" lengthAdjust="spacingAndGlyphs" transform="rotate(0.03 428.95 329.22)">0.70</text>
<text x="466.52" y="329.22" font-size="14.84" text-anchor="middle" fill="#050505" textLength="31.17" lengthAdjust="spacingAndGlyphs" transform="rotate(0.03 466.52 329.22)">0.74</text>
<text x="278.40" y="353.32" font-size="14.84" text-anchor="middle" fill="#050505" textLength="31.17" lengthAdjust="spacingAndGlyphs" transform="rotate(0.03 278.40 353.32)">0.67</text>
<text x="316.05" y="353.32" font-size="14.84" text-anchor="middle" fill="#050505" textLength="31.17" lengthAdjust="spacingAndGlyphs" transform="rotate(0.03 316.05 353.32)">0.72</text>
<text x="353.75" y="353.32" font-size="14.84" text-anchor="middle" fill="#050505" textLength="31.17" lengthAdjust="spacingAndGlyphs" transform="rotate(0.03 353.75 353.32)">0.69</text>
<text x="391.40" y="353.32" font-size="14.84" text-anchor="middle" fill="#050505" textLength="31.17" lengthAdjust="spacingAndGlyphs" transform="rotate(0.03 391.40 353.32)">0.71</text>
<text x="428.95" y="353.32" font-size="14.84" text-anchor="middle" fill="#050505" textLength="31.17" lengthAdjust="spacingAndGlyphs" transform="rotate(0.03 428.95 353.32)">0.70</text>
<text x="466.52" y="353.32" font-size="14.84" text-anchor="middle" fill="#050505" textLength="31.17" lengthAdjust="spacingAndGlyphs" transform="rotate(0.03 466.52 353.32)">0.67</text>
<text x="278.40" y="377.42" font-size="14.84" text-anchor="middle" fill="#050505" textLength="31.17" lengthAdjust="spacingAndGlyphs" transform="rotate(0.03 278.40 377.42)">0.65</text>
<text x="316.05" y="377.42" font-size="14.84" text-anchor="middle" fill="#050505" textLength="31.17" lengthAdjust="spacingAndGlyphs" transform="rotate(0.03 316.05 377.42)">0.68</text>
<text x="353.75" y="377.42" font-size="14.84" text-anchor="middle" fill="#050505" textLength="31.17" lengthAdjust="spacingAndGlyphs" transform="rotate(0.03 353.75 377.42)">0.67</text>
<text x="391.40" y="377.42" font-size="14.84" text-anchor="middle" fill="#050505" textLength="31.17" lengthAdjust="spacingAndGlyphs" transform="rotate(0.03 391.40 377.42)">0.70</text>
<text x="428.95" y="377.42" font-size="14.84" text-anchor="middle" fill="#050505" textLength="31.17" lengthAdjust="spacingAndGlyphs" transform="rotate(0.03 428.95 377.42)">0.67</text>
<text x="466.52" y="377.42" font-size="14.84" text-anchor="middle" fill="#050505" textLength="31.17" lengthAdjust="spacingAndGlyphs" transform="rotate(0.03 466.52 377.42)">0.66</text>
<text x="278.40" y="401.52" font-size="14.84" text-anchor="middle" fill="#050505" textLength="31.17" lengthAdjust="spacingAndGlyphs" transform="rotate(0.03 278.40 401.52)">0.68</text>
<text x="316.05" y="401.52" font-size="14.84" text-anchor="middle" fill="#050505" textLength="31.17" lengthAdjust="spacingAndGlyphs" transform="rotate(0.03 316.05 401.52)">0.68</text>
<text x="353.75" y="401.52" font-size="14.84" text-anchor="middle" fill="#050505" textLength="31.17" lengthAdjust="spacingAndGlyphs" transform="rotate(0.03 353.75 401.52)">0.67</text>
<text x="391.40" y="401.52" font-size="14.84" text-anchor="middle" fill="#050505" textLength="31.17" lengthAdjust="spacingAndGlyphs" transform="rotate(0.03 391.40 401.52)">0.73</text>
<text x="428.95" y="401.52" font-size="14.84" text-anchor="middle" fill="#050505" textLength="31.17" lengthAdjust="spacingAndGlyphs" transform="rotate(0.03 428.95 401.52)">0.66</text>
<text x="466.52" y="401.52" font-size="14.84" text-anchor="middle" fill="#050505" textLength="31.17" lengthAdjust="spacingAndGlyphs" transform="rotate(0.03 466.52 401.52)">0.71</text>
<text x="278.40" y="425.62" font-size="14.84" text-anchor="middle" fill="#050505" textLength="31.17" lengthAdjust="spacingAndGlyphs" transform="rotate(0.03 278.40 425.62)">0.50</text>
<text x="316.05" y="425.62" font-size="14.84" text-anchor="middle" fill="#050505" textLength="31.17" lengthAdjust="spacingAndGlyphs" transform="rotate(0.03 316.05 425.62)">0.72</text>
<text x="353.75" y="425.62" font-size="14.84" text-anchor="middle" fill="#050505" textLength="31.17" lengthAdjust="spacingAndGlyphs" transform="rotate(0.03 353.75 425.62)">0.61</text>
<text x="391.40" y="425.62" font-size="14.84" text-anchor="middle" fill="#050505" textLength="31.17" lengthAdjust="spacingAndGlyphs" transform="rotate(0.03 391.40 425.62)">0.61</text>
<text x="428.95" y="425.62" font-size="14.84" text-anchor="middle" fill="#050505" textLength="31.17" lengthAdjust="spacingAndGlyphs" transform="rotate(0.03 428.95 425.62)">0.51</text>
<text x="466.52" y="425.62" font-size="14.84" text-anchor="middle" fill="#050505" textLength="31.17" lengthAdjust="spacingAndGlyphs" transform="rotate(0.03 466.52 425.62)">0.58</text>
<text x="278.40" y="449.72" font-size="14.84" text-anchor="middle" fill="#050505" textLength="31.17" lengthAdjust="spacingAndGlyphs" transform="rotate(0.03 278.40 449.72)">0.57</text>
<text x="316.05" y="449.72" font-size="14.84" text-anchor="middle" fill="#050505" textLength="31.17" lengthAdjust="spacingAndGlyphs" transform="rotate(0.03 316.05 449.72)">0.68</text>
<text x="353.75" y="449.72" font-size="14.84" text-anchor="middle" fill="#050505" textLength="31.17" lengthAdjust="spacingAndGlyphs" transform="rotate(0.03 353.75 449.72)">0.56</text>
<text x="391.40" y="449.72" font-size="14.84" text-anchor="middle" fill="#050505" textLength="31.17" lengthAdjust="spacingAndGlyphs" transform="rotate(0.03 391.40 449.72)">0.71</text>
<text x="428.95" y="449.72" font-size="14.84" text-anchor="middle" fill="#050505" textLength="31.17" lengthAdjust="spacingAndGlyphs" transform="rotate(0.03 428.95 449.72)">0.63</text>
<text x="466.52" y="449.72" font-size="14.84" text-anchor="middle" fill="#050505" textLength="31.17" lengthAdjust="spacingAndGlyphs" transform="rotate(0.03 466.52 449.72)">0.57</text>
<line x1="257.96" y1="301.55" x2="259.60" y2="301.55" stroke="#888" stroke-width="0.45"/>
<text x="255.93" y="303.16" font-size="7.32" text-anchor="end" fill="#000" textLength="51.98" lengthAdjust="spacingAndGlyphs" transform="rotate(0.03 255.93 303.16)">Random Forest</text>
<line x1="257.96" y1="325.57" x2="259.60" y2="325.57" stroke="#888" stroke-width="0.45"/>
<text x="255.93" y="327.18" font-size="7.32" text-anchor="end" fill="#000" textLength="29.58" lengthAdjust="spacingAndGlyphs" transform="rotate(0.03 255.93 327.18)">XGBoost</text>
<line x1="257.96" y1="349.59" x2="259.60" y2="349.59" stroke="#888" stroke-width="0.45"/>
<text x="255.93" y="351.20" font-size="7.32" text-anchor="end" fill="#000" textLength="50.38" lengthAdjust="spacingAndGlyphs" transform="rotate(0.03 255.93 351.20)">Deep Learning</text>
<line x1="257.96" y1="373.61" x2="259.60" y2="373.61" stroke="#888" stroke-width="0.45"/>
<text x="255.93" y="375.22" font-size="7.32" text-anchor="end" fill="#000" textLength="45.98" lengthAdjust="spacingAndGlyphs" transform="rotate(0.03 255.93 375.22)">Decision Tree</text>
<line x1="257.96" y1="397.63" x2="259.60" y2="397.63" stroke="#888" stroke-width="0.45"/>
<text x="255.93" y="399.24" font-size="7.32" text-anchor="end" fill="#000" textLength="14.86" lengthAdjust="spacingAndGlyphs" transform="rotate(0.03 255.93 399.24)">KNN</text>
<line x1="257.96" y1="421.65" x2="259.60" y2="421.65" stroke="#888" stroke-width="0.45"/>
<text x="255.93" y="423.26" font-size="7.32" text-anchor="end" fill="#000" textLength="43.79" lengthAdjust="spacingAndGlyphs" transform="rotate(0.03 255.93 423.26)">Gaussian NB</text>
<line x1="257.96" y1="445.67" x2="259.60" y2="445.67" stroke="#888" stroke-width="0.45"/>
<text x="255.93" y="447.28" font-size="7.32" text-anchor="end" fill="#000" textLength="66.25" lengthAdjust="spacingAndGlyphs" transform="rotate(0.03 255.93 447.28)">Logistic Regression</text>
<line x1="278.40" y1="456.90" x2="278.40" y2="458.64" stroke="#555" stroke-width="0.5"/>
<text x="278.40" y="477.61" font-size="7.32" text-anchor="middle" fill="#000" textLength="34.71" lengthAdjust="spacingAndGlyphs" transform="rotate(-45.03 278.40 475.80)">AtomPairs</text>
<line x1="316.05" y1="456.90" x2="316.05" y2="458.64" stroke="#555" stroke-width="0.5"/>
<text x="316.05" y="474.50" font-size="7.32" text-anchor="middle" fill="#000" textLength="25.90" lengthAdjust="spacingAndGlyphs" transform="rotate(-45.03 316.05 472.69)">Morgan</text>
<line x1="353.75" y1="456.90" x2="353.75" y2="458.64" stroke="#555" stroke-width="0.5"/>
<text x="353.75" y="474.04" font-size="7.32" text-anchor="middle" fill="#000" textLength="24.59" lengthAdjust="spacingAndGlyphs" transform="rotate(-45.03 353.75 472.23)">MACCS</text>
<line x1="391.40" y1="456.90" x2="391.40" y2="458.64" stroke="#555" stroke-width="0.5"/>
<text x="391.40" y="472.16" font-size="7.32" text-anchor="middle" fill="#000" textLength="19.27" lengthAdjust="spacingAndGlyphs" transform="rotate(-45.03 391.40 470.35)">RDKit</text>
<line x1="428.95" y1="456.90" x2="428.95" y2="458.64" stroke="#555" stroke-width="0.5"/>
<text x="428.95" y="477.00" font-size="7.32" text-anchor="middle" fill="#000" textLength="32.98" lengthAdjust="spacingAndGlyphs" transform="rotate(-45.03 428.95 475.19)">PubChem</text>
<line x1="466.52" y1="456.90" x2="466.52" y2="458.64" stroke="#555" stroke-width="0.5"/>
<text x="466.52" y="486.89" font-size="7.32" text-anchor="middle" fill="#000" textLength="60.95" lengthAdjust="spacingAndGlyphs" transform="rotate(-45.03 466.52 485.08)">RDKit Descriptors</text>
<text x="372.48" y="286.80" font-size="9.93" text-anchor="middle" fill="#000" textLength="150.97" lengthAdjust="spacingAndGlyphs" transform="rotate(0.03 372.48 286.80)">Heatmap for Balanced Accuracy</text>
<text x="372.18" y="515.41" font-size="8.14" text-anchor="middle" fill="#000" textLength="45.66" lengthAdjust="spacingAndGlyphs" transform="rotate(0.03 372.18 515.41)">Fingerprints</text>
<text x="187.50" y="373.45" font-size="8.14" text-anchor="middle" fill="#000" textLength="35.06" lengthAdjust="spacingAndGlyphs" transform="rotate(-90.03 187.50 373.45)">Classifier</text>
<defs><linearGradient id="g259" x1="0" y1="0" x2="0" y2="1"><stop offset="0.0000" stop-color="#b40426"/><stop offset="0.0625" stop-color="#ca3b37"/><stop offset="0.1250" stop-color="#dd5f4b"/><stop offset="0.1875" stop-color="#eb7d62"/><stop offset="0.2500" stop-color="#f4987a"/><stop offset="0.3125" stop-color="#f7b093"/><stop offset="0.3750" stop-color="#f5c4ac"/><stop offset="0.4375" stop-color="#ecd3c5"/><stop offset="0.5000" stop-color="#dddcdc"/><stop offset="0.5625" stop-color="#ccd9ed"/><stop offset="0.6250" stop-color="#b9d0f9"/><stop offset="0.6875" stop-color="#a3c2fe"/><stop offset="0.7500" stop-color="#8db0fe"/><stop offset="0.8125" stop-color="#779af7"/><stop offset="0.8750" stop-color="#6282ea"/><stop offset="0.9375" stop-color="#4e68d8"/><stop offset="1.0000" stop-color="#3b4cc0"/></linearGradient></defs>
<rect x="499.80" y="351.90" width="2.20" height="42.60" fill="url(#g259)"/>
<line x1="502.00" y1="379.29" x2="503.40" y2="379.29" stroke="#555" stroke-width="0.4"/>
<text x="504.70" y="381.13" font-size="4.66" text-anchor="start" fill="#1a1a1a" textLength="7.00" lengthAdjust="spacingAndGlyphs" transform="rotate(0.03 504.70 381.13)">0.6</text>
<line x1="502.00" y1="364.07" x2="503.40" y2="364.07" stroke="#555" stroke-width="0.4"/>
<text x="504.70" y="365.92" font-size="4.66" text-anchor="start" fill="#1a1a1a" textLength="7.00" lengthAdjust="spacingAndGlyphs" transform="rotate(0.03 504.70 365.92)">0.7</text>
<text x="-0.55" y="15.5" font-size="21" font-weight="bold" fill="#000" transform="rotate(0.03 -0.55 15.5)">g</text>
<text x="12.59" y="15.5" font-size="21" font-weight="bold" fill="#000" transform="rotate(0.03 12.59 15.5)">)</text>
<text x="347.48" y="15.5" font-size="21" font-weight="bold" fill="#000" transform="rotate(0.03 347.48 15.5)">h</text>
<text x="361.17" y="15.5" font-size="21" font-weight="bold" fill="#000" transform="rotate(0.03 361.17 15.5)">)</text>
<text x="161.47" y="510.9" font-size="21" font-weight="bold" fill="#000" transform="rotate(0.03 161.47 510.9)">i</text>
<text x="167.7" y="510.9" font-size="21" font-weight="bold" fill="#000" transform="rotate(0.03 167.7 510.9)">)</text>
</svg>
</body></html>
